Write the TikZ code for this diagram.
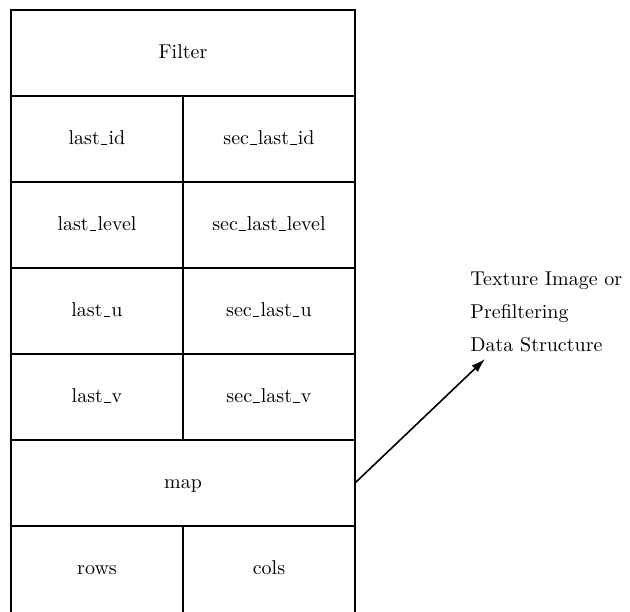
\documentclass[tikz,border=0pt]{standalone}
\usetikzlibrary{positioning, arrows.meta}

% short low bar for the field names
\newcommand{\lowbar}{\leavevmode\kern.06em\vbox{\hrule width .32em height .4pt}\kern.06em}

\tikzset{
    cell/.style = {draw, thick, minimum height = 43pt, inner sep = 0pt, outer sep = 0pt,
        text height = 1.6ex, text depth = .3ex},
    wide/.style = {cell, minimum width = 172pt},
    half/.style = {cell, minimum width = 86pt},
    lowcell/.style = {half, minimum height = 50pt, text depth = 7pt + .3ex}
}

\begin{document}
\begin{tikzpicture}[x = 0.5pt, y = -0.5pt]
        \useasboundingbox (0, 0) rectangle (630, 611);
        \node[wide] (filter) at (183, 53) {Filter};
        \node[half, below left = 0pt and 0pt of filter.south] (lastid) {last\lowbar id};
        \node[half, below right = 0pt and 0pt of filter.south] (seclastid) {sec\lowbar last\lowbar id};
        \node[half, below = 0pt of lastid] (lastlevel) {last\lowbar level};
        \node[half, below = 0pt of seclastid] (seclastlevel) {sec\lowbar last\lowbar level};
        \node[half, below = 0pt of lastlevel] (lastu) {last\lowbar u};
        \node[half, below = 0pt of seclastlevel] (seclastu) {sec\lowbar last\lowbar u};
        \node[half, below = 0pt of lastu] (lastv) {last\lowbar v};
        \node[half, below = 0pt of seclastu] (seclastv) {sec\lowbar last\lowbar v};
        \node[wide, below = 0pt of lastv.south east] (map) {map};
        \node[lowcell, below left = 0pt and 0pt of map.south] (rows) {rows};
        \node[lowcell, below right = 0pt and 0pt of map.south] (cols) {cols};
        % where the map points to
        \node[anchor = north west, inner sep = 0pt, align = left] (texture) at (470, 271)
            {Texture Image or\\[4.5pt] Prefiltering\\[4.5pt] Data Structure};
        \coordinate (tip) at (485, 359);
        \draw[thick, -{Latex[length = 7pt, width = 4.5pt]}] (map.east) -- (tip);
    \end{tikzpicture}
\end{document}
